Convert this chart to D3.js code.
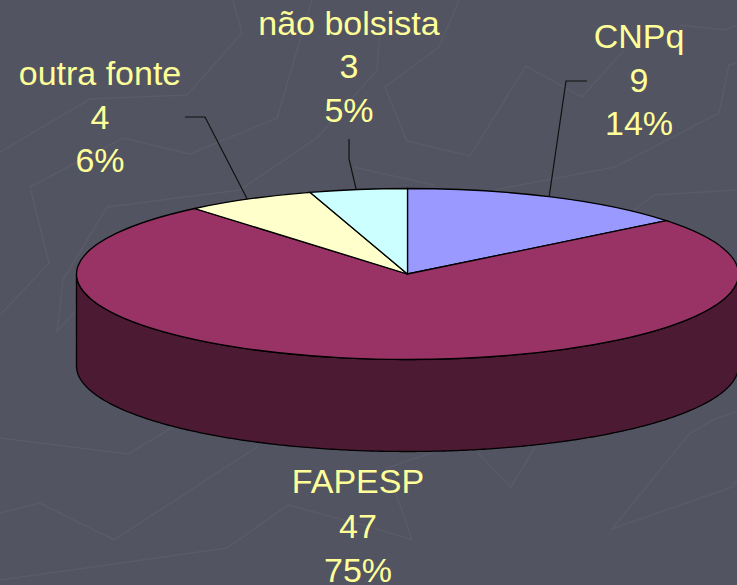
<!DOCTYPE html>
<html>
<head>
<meta charset="utf-8">
<script src="https://cdn.jsdelivr.net/npm/d3@7"></script>
<style>
  html, body { margin: 0; padding: 0; background: #525461; overflow: hidden; }
  text { font-family: "Liberation Sans", Arial, sans-serif; }
</style>
</head>
<body>
<div id="chart"></div>
<script>
const categories = ["CNPq", "FAPESP", "outra fonte", "não bolsista"];
const counts = [9, 47, 4, 3];
const percents = ["14%", "75%", "6%", "5%"];
const topColors = ["#9999ff", "#993366", "#ffffcc", "#ccffff"];
const sideColors = ["#4d4d80", "#4c1a33", "#808066", "#668080"];

// faint background pattern of the slide template
const bgLines = [
    [[233,0],[242,33],[187,95],[90,99],[0,152]],
    [[312,0],[277,118],[190,154],[123,138],[30,187],[49,263],[0,315]],
    [[380,30],[377,70],[318,137],[240,190],[107,207],[63,280],[57,331],[77,310]],
    [[0,438],[128,454],[173,427]],
    [[0,513],[40,503],[114,540],[257,447]],
    [[0,580],[227,548],[288,505],[370,527]],
    [[434,452],[387,468],[412,540],[374,528]],
    [[477,452],[511,487],[535,447]],
    [[737,412],[717,418],[690,433],[612,529],[732,487],[737,480]],
    [[459,0],[439,47],[385,87],[407,141],[470,156],[526,66],[582,97],[624,50]],
    [[680,25],[725,30],[737,25]],
    [[737,63],[729,65],[719,113],[615,167],[494,190]],
    [[737,190],[654,195],[634,210]],
    [[353,167],[434,185]]
];

const width = 737, height = 585;
const cx = 407.5, cy = 274, rx = 331, ry = 85.5, depth = 92;

const svg = d3.select("#chart").append("svg")
    .attr("width", width)
    .attr("height", height)
    .style("display", "block");

svg.append("g").selectAll("path")
    .data(bgLines)
    .enter().append("path")
    .attr("d", d3.line())
    .attr("fill", "none")
    .attr("stroke", "#5a5b68")
    .attr("stroke-width", 1.5);

const pie = d3.pie().sort(null);
const slices = pie(counts);

// project a pie angle (0 at top, clockwise) onto the tilted ellipse
const px = a => cx + rx * Math.sin(a);
const py = a => cy - ry * Math.cos(a);

// side wall: only the part of each slice facing the viewer
const side = d3.area()
    .x(a => px(a))
    .y0(a => py(a))
    .y1(a => py(a) + depth);

slices.forEach((s, i) => {
    const from = Math.max(s.startAngle, Math.PI / 2);
    const to = Math.min(s.endAngle, Math.PI * 1.5);
    if (from >= to) return;
    svg.append("path")
        .attr("d", side(d3.range(from, to, 0.01).concat([to])))
        .attr("fill", sideColors[i])
        .attr("stroke", "#000")
        .attr("stroke-width", 1.3);
});

const arc = d3.arc().innerRadius(0).outerRadius(rx);

svg.append("g")
    .attr("transform", `translate(${cx},${cy}) scale(1,${ry / rx})`)
    .selectAll("path")
    .data(slices)
    .enter().append("path")
    .attr("d", arc)
    .attr("fill", (d, i) => topColors[i])
    .attr("stroke", "#000")
    .attr("stroke-width", 1.3)
    .attr("vector-effect", "non-scaling-stroke");

// leader lines go from the middle of the slice rim to an elbow near the label
const leaders = [
    { slice: 0, elbow: [566, 81], end: [587, 81] },
    { slice: 2, elbow: [205, 117], end: [185, 117] },
    { slice: 3, elbow: [349, 159], end: [349, 139] }
];

leaders.forEach(d => {
    const s = slices[d.slice];
    const mid = (s.startAngle + s.endAngle) / 2;
    svg.append("path")
        .attr("d", d3.line()([[px(mid) - 2, py(mid)], d.elbow, d.end]))
        .attr("fill", "none")
        .attr("stroke", "#111")
        .attr("stroke-width", 1.2);
});

const labelPos = [
    { x: 639, y: [48, 92, 135] },
    { x: 358, y: [493, 538, 582] },
    { x: 100, y: [85, 129, 172] },
    { x: 349, y: [35, 78, 122] }
];

categories.forEach((c, i) => {
    const lines = [c, counts[i], percents[i]];
    svg.append("g").selectAll("text")
        .data(lines)
        .enter().append("text")
        .attr("x", labelPos[i].x)
        .attr("y", (d, j) => labelPos[i].y[j])
        .attr("text-anchor", "middle")
        .attr("fill", "#ffff99")
        .style("font-size", "34px")
        .text(d => d);
});
</script>
</body>
</html>
